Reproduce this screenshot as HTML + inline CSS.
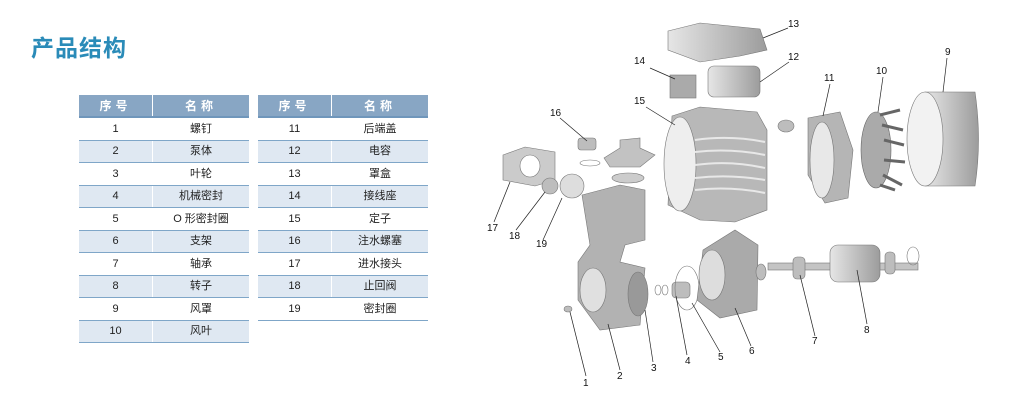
<!DOCTYPE html>
<html><head><meta charset="utf-8"><style>
body{margin:0;width:1014px;height:408px;background:#fff;position:relative;overflow:hidden;font-family:"Liberation Sans","Noto Sans CJK SC",sans-serif}
.t{position:absolute;left:31px;top:29px;font-size:23px;font-weight:bold;color:#2a8bb8;letter-spacing:1px;font-family:"Noto Sans CJK SC",sans-serif}
table{position:absolute;top:95px;border-collapse:collapse;font-size:11px;color:#222;font-family:"Liberation Sans","Noto Sans CJK SC",sans-serif}
td,th{padding:0;text-align:center;border-bottom:1.5px solid #7fa6c8;line-height:12px}
td{height:21.5px}
th{background:#88a6c4;color:#fff;font-weight:bold;font-size:12px;height:21px;border-bottom:2px solid #6f96bb;letter-spacing:4px}
th+th,td+td{border-left:1px solid #fff}
tr.a td{background:#dfe8f2}
.n{position:absolute;font-size:10px;color:#111;font-family:"Liberation Sans",sans-serif}
</style></head><body>
<div class="t">产品结构</div>
<table style="left:79px;width:170px">
<tr><th style="width:73px">序号</th><th>名称</th></tr>
<tr><td>1</td><td>螺钉</td></tr>
<tr class="a"><td>2</td><td>泵体</td></tr>
<tr><td>3</td><td>叶轮</td></tr>
<tr class="a"><td>4</td><td>机械密封</td></tr>
<tr><td>5</td><td>O 形密封圈</td></tr>
<tr class="a"><td>6</td><td>支架</td></tr>
<tr><td>7</td><td>轴承</td></tr>
<tr class="a"><td>8</td><td>转子</td></tr>
<tr><td>9</td><td>风罩</td></tr>
<tr class="a"><td>10</td><td>风叶</td></tr>
</table>
<table style="left:258px;width:170px">
<tr><th style="width:73px">序号</th><th>名称</th></tr>
<tr><td>11</td><td>后端盖</td></tr>
<tr class="a"><td>12</td><td>电容</td></tr>
<tr><td>13</td><td>罩盒</td></tr>
<tr class="a"><td>14</td><td>接线座</td></tr>
<tr><td>15</td><td>定子</td></tr>
<tr class="a"><td>16</td><td>注水螺塞</td></tr>
<tr><td>17</td><td>进水接头</td></tr>
<tr class="a"><td>18</td><td>止回阀</td></tr>
<tr><td>19</td><td>密封圈</td></tr>
</table>
<svg width="1014" height="408" style="position:absolute;left:0;top:0" fill="#bdbdbd" stroke="#777" stroke-width="0.6">
<defs><linearGradient id="g" x1="0" y1="0" x2="1" y2="0"><stop offset="0" stop-color="#e6e6e6"/><stop offset="1" stop-color="#9c9c9c"/></linearGradient></defs>
<path d="M668,31 L700,23 L760,29 L767,50 L740,56 L700,62 L668,50 Z" fill="url(#g)"/>
<rect x="708" y="66" width="52" height="31" rx="6" fill="url(#g)"/>
<rect x="670" y="75" width="26" height="23" fill="#aaa"/>
<path d="M672,116 L700,107 L757,112 L767,130 L767,210 L735,222 L700,220 L668,205 Z" fill="#b8b8b8"/>
<ellipse cx="680" cy="164" rx="16" ry="47" fill="#eee"/>
<g stroke="#e8e8e8" stroke-width="2" fill="none"><path d="M695,140 Q730,135 765,142"/><path d="M695,152 Q730,148 765,155"/><path d="M695,165 Q730,160 765,168"/><path d="M695,178 Q730,174 765,180"/><path d="M695,190 Q730,186 765,193"/></g>
<ellipse cx="786" cy="126" rx="8" ry="6"/>
<path d="M808,118 L840,112 L853,150 L848,198 L825,203 L808,175 Z" fill="#b5b5b5"/>
<ellipse cx="822" cy="160" rx="12" ry="38" fill="#e8e8e8"/>
<g stroke="#666"><ellipse cx="876" cy="150" rx="15" ry="38" fill="#aaa"/>
<path d="M880,115 L900,110 M882,125 L903,130 M884,140 L904,145 M884,160 L905,162 M883,175 L902,185 M880,185 L895,190" stroke-width="3"/></g>
<path d="M925,92 L975,92 Q982,140 975,186 L925,186 Z" fill="url(#g)"/>
<ellipse cx="925" cy="139" rx="18" ry="47" fill="#f2f2f2"/>
<rect x="578" y="138" width="18" height="12" rx="3"/>
<ellipse cx="590" cy="163" rx="10" ry="3" fill="none"/>
<path d="M604,158 L620,148 L620,140 L640,138 L640,148 L655,155 L640,167 L610,167 Z" fill="#c2c2c2"/>
<ellipse cx="628" cy="178" rx="16" ry="5" fill="#ccc"/>
<path d="M503,155 L525,147 L555,152 L555,180 L535,186 L503,180 Z" fill="#cbcbcb"/>
<ellipse cx="530" cy="166" rx="10" ry="11" fill="#fff"/>
<circle cx="550" cy="186" r="8"/>
<ellipse cx="572" cy="186" rx="12" ry="12" fill="#ddd"/>
<path d="M582,195 L620,185 L645,190 L645,240 L625,245 L620,262 L645,268 L640,325 L600,330 L578,300 L578,262 L590,245 Z" fill="#b2b2b2"/>
<ellipse cx="593" cy="290" rx="13" ry="22" fill="#e0e0e0"/>
<ellipse cx="568" cy="309" rx="4" ry="3"/>
<ellipse cx="638" cy="294" rx="10" ry="22" fill="#999"/>
<ellipse cx="658" cy="290" rx="3" ry="5" fill="none"/><ellipse cx="665" cy="290" rx="3" ry="5" fill="none"/>
<rect x="672" y="282" width="18" height="16" rx="4"/>
<ellipse cx="687" cy="288" rx="12" ry="22" fill="none"/>
<path d="M703,250 L735,230 L758,245 L757,310 L720,318 L697,300 Z" fill="#aaa"/>
<ellipse cx="712" cy="275" rx="13" ry="25" fill="#ddd"/>
<ellipse cx="761" cy="272" rx="5" ry="8"/>
<rect x="768" y="263" width="150" height="7" fill="#c4c4c4"/>
<rect x="793" y="257" width="12" height="22" rx="4"/>
<rect x="830" y="245" width="50" height="37" rx="8" fill="url(#g)"/>
<rect x="885" y="252" width="10" height="22" rx="4"/>
<ellipse cx="913" cy="256" rx="6" ry="9" fill="none"/>
<g stroke="#222" stroke-width="0.7" fill="none">
<line x1="763" y1="38" x2="788" y2="28"/>
<line x1="760" y1="82" x2="789" y2="62"/>
<line x1="650" y1="68" x2="675" y2="79"/>
<line x1="646" y1="107" x2="675" y2="125"/>
<line x1="560" y1="118" x2="587" y2="141"/>
<line x1="830" y1="84" x2="823" y2="116"/>
<line x1="883" y1="77" x2="878" y2="112"/>
<line x1="947" y1="58" x2="943" y2="92"/>
<line x1="494" y1="222" x2="510" y2="182"/>
<line x1="516" y1="230" x2="545" y2="192"/>
<line x1="543" y1="240" x2="562" y2="198"/>
<line x1="586" y1="376" x2="570" y2="312"/>
<line x1="620" y1="370" x2="608" y2="324"/>
<line x1="653" y1="362" x2="645" y2="310"/>
<line x1="687" y1="355" x2="676" y2="296"/>
<line x1="720" y1="352" x2="692" y2="303"/>
<line x1="751" y1="346" x2="735" y2="308"/>
<line x1="815" y1="336" x2="800" y2="275"/>
<line x1="867" y1="324" x2="857" y2="270"/>
</g>
</svg>
<div class="n" style="left:788px;top:19px">13</div>
<div class="n" style="left:788px;top:52px">12</div>
<div class="n" style="left:634px;top:56px">14</div>
<div class="n" style="left:634px;top:96px">15</div>
<div class="n" style="left:550px;top:108px">16</div>
<div class="n" style="left:824px;top:73px">11</div>
<div class="n" style="left:876px;top:66px">10</div>
<div class="n" style="left:945px;top:47px">9</div>
<div class="n" style="left:487px;top:223px">17</div>
<div class="n" style="left:509px;top:231px">18</div>
<div class="n" style="left:536px;top:239px">19</div>
<div class="n" style="left:583px;top:378px">1</div>
<div class="n" style="left:617px;top:371px">2</div>
<div class="n" style="left:651px;top:363px">3</div>
<div class="n" style="left:685px;top:356px">4</div>
<div class="n" style="left:718px;top:352px">5</div>
<div class="n" style="left:749px;top:346px">6</div>
<div class="n" style="left:812px;top:336px">7</div>
<div class="n" style="left:864px;top:325px">8</div>
</body></html>
